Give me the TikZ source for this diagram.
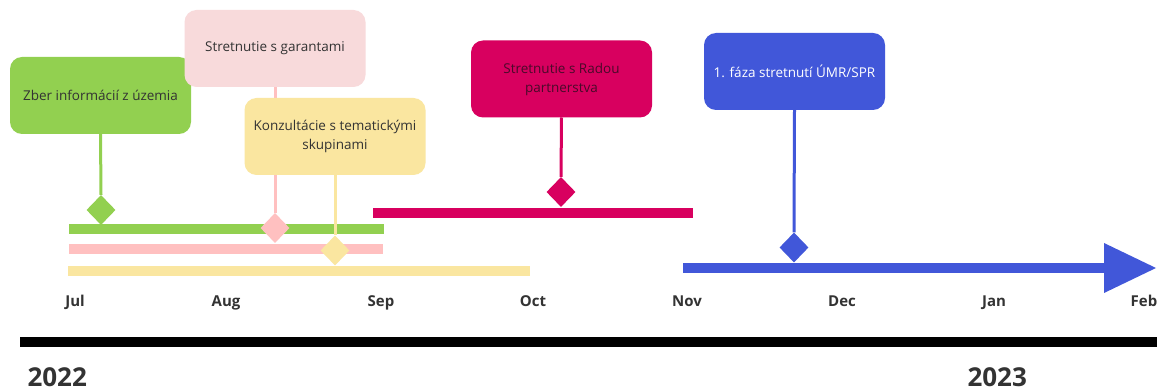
\documentclass[tikz,border=0pt]{standalone}
\usepackage{fontspec}
\setmainfont{Open Sans}
\usetikzlibrary{shapes.geometric}
\definecolor{cgreen}{HTML}{92D050}
\definecolor{cpinkbox}{HTML}{F8DADB}
\definecolor{cpink}{HTML}{FFC0C0}
\definecolor{cyellow}{HTML}{FAE6A0}
\definecolor{cmag}{HTML}{D8005F}
\definecolor{cblue}{HTML}{4157D9}
\definecolor{ctext}{HTML}{333333}
\definecolor{cmagtext}{HTML}{4A0A2A}
\begin{document}
\begin{tikzpicture}[x=1pt,y=-1pt,
 box/.style={rounded corners=12pt, minimum width=181pt, minimum height=77pt, align=center,
   font=\fontsize{13.5}{19}\selectfont, text=ctext, inner sep=0pt},
 gem/.style={diamond, minimum width=29pt, minimum height=30pt, inner sep=0pt},
 bar/.style={line width=10pt},
 stem/.style={line width=3pt},
 month/.style={font=\fontsize{15}{18}\selectfont\bfseries, text=ctext, anchor=base},
 year/.style={font=\fontsize{26}{30}\selectfont\bfseries, text=ctext, anchor=base west}]
\useasboundingbox[fill=white] (0,0) rectangle (1157,387);

% bars
\draw[bar, cgreen] (69,229.5) -- (384,229.5);
\draw[bar, cpink] (69,249) -- (383,249);
\draw[bar, cyellow] (68,271) -- (530,271);
\draw[bar, cmag] (373,213) -- (693,213);
\draw[bar, cblue] (683,268) -- (1106,268);
\coordinate (ab1) at (1104,243);
\coordinate (ab2) at (1104,293);
\coordinate (atip) at (1156,268);
\fill[cblue] (ab1) -- (atip) -- (ab2) -- cycle;

% timeline
\draw[line width=10pt, black] (20,342) -- (1157,342);

% diamonds
\node[gem, fill=cgreen] (d1) at (101,210) {};
\node[gem, fill=cpink] (d2) at (275,228) {};
\node[gem, fill=cyellow] (d3) at (335,250.5) {};
\node[gem, fill=cmag] (d4) at (561,192) {};
\node[gem, fill=cblue] (d5) at (794,247.5) {};

% boxes (positions)
\coordinate (p1) at (100.5,95.5);
\coordinate (p2) at (275,48.5);
\coordinate (p3) at (335,136.5);
\coordinate (p4) at (561.5,79);
\coordinate (p5) at (794.5,71.5);

% stems (drawn under boxes)
\path (p1) ++(0,38.5) coordinate (s1);
\path (p2) ++(0,38.5) coordinate (s2);
\path (p3) ++(0,38.5) coordinate (s3);
\path (p4) ++(0,38.5) coordinate (s4);
\path (p5) ++(0,38.5) coordinate (s5);
\draw[stem, cgreen] (s1) -- (d1.north);
\draw[stem, cpink] (s2) -- (d2.north);
\draw[stem, cyellow] (s3) -- (d3.north);
\draw[stem, cmag] (s4) -- (d4.north);
\draw[stem, cblue] (s5) -- (d5.north);

\node[box, fill=cgreen] (b1) at (p1) {Zber informácií z územia};
\node[box, fill=cpinkbox] (b2) at (p2) {Stretnutie s garantami};
\node[box, fill=cyellow] (b3) at (p3) {Konzultácie s tematickými\\skupinami};
\node[box, fill=cmag, text=cmagtext] (b4) at (p4) {Stretnutie s Radou\\partnerstva};
\node[box, fill=cblue, text=white] (b5) at (p5) {1. fáza stretnutí ÚMR/SPR};

% months
\node[month] (m1) at (75,307) {Jul};
\node[month] (m2) at (226,307) {Aug};
\node[month] (m3) at (381,307) {Sep};
\node[month] (m4) at (533,307) {Oct};
\node[month] (m5) at (687,307) {Nov};
\node[month] (m6) at (842,307) {Dec};
\node[month] (m7) at (994,307) {Jan};
\node[month] (m8) at (1144,307) {Feb};

% years
\node[year] (y1) at (24,386) {2022};
\node[year] (y2) at (964,386) {2023};
\end{tikzpicture}
\end{document}
